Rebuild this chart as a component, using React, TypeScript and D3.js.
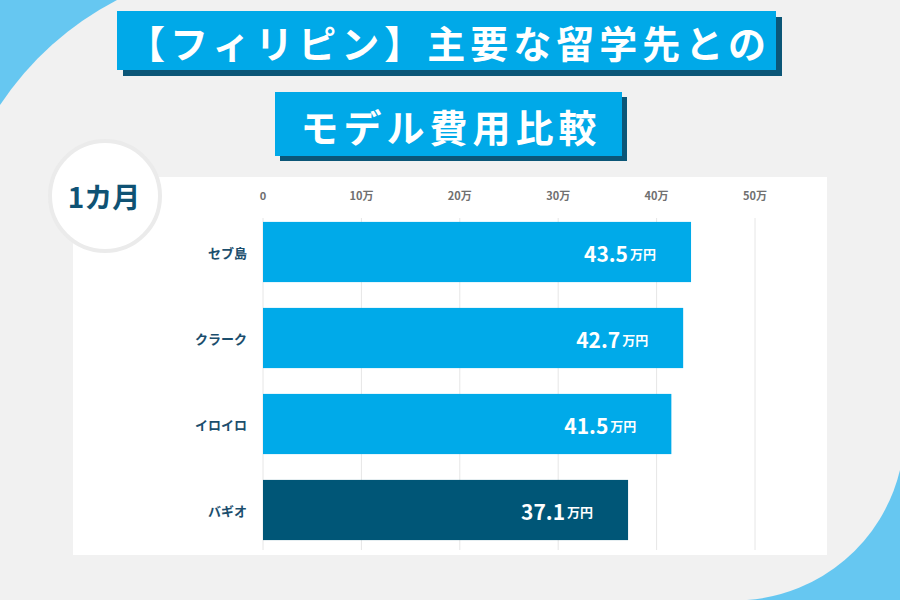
import React from "react";
import * as d3 from "d3";

const categories = ["セブ島", "クラーク", "イロイロ", "バギオ"];
const values = [43.5, 42.7, 41.5, 37.1];
const highlighted = ["バギオ"];
const tickValues = [0, 10, 20, 30, 40, 50];
const tickLabels = ["0", "10万", "20万", "30万", "40万", "50万"];
const titleLine1 = "【フィリピン】主要な留学先との";
const titleLine2 = "モデル費用比較";
const periodLabel = "1カ月";
const unitLabel = "万円";

const W = 900;
const H = 600;
const FONT = "'Noto Sans CJK JP', 'Noto Sans', sans-serif";

export default function App() {
  const x = d3.scaleLinear().domain([0, 50]).range([263, 755]);
  const y = d3
    .scaleBand<string>()
    .domain(categories)
    .range([209, 553])
    .paddingInner(0.3)
    .paddingOuter(0.15);

  const bgPath =
    "M117,0 L900,0 L900,470 A170,170 0 0 1 747,600 L0,600 L0,105 A317,317 0 0 1 117,0 Z";

  return (
    <svg width={W} height={H} style={{ display: "block", position: "absolute", left: 0, top: 0 }}>
      <rect x={0} y={0} width={W} height={H} fill="#66c7f1" />
      <path d={bgPath} fill="#f1f1f1" />

      {/* Title boxes */}
      <rect x={123} y={17} width={659} height={59} fill="#0b5677" />
      <rect x={117} y={11} width={659} height={59} fill="#00a9e8" />
      <text
        x={449}
        y={41}
        textAnchor="middle"
        dominantBaseline="central"
        fill="#fff"
        fontFamily={FONT}
        fontWeight={700}
        fontSize={38}
        letterSpacing={5}
      >
        {titleLine1}
      </text>
      <rect x={280} y={97} width={347} height={64} fill="#0b5677" />
      <rect x={275} y={92} width={347} height={64} fill="#00a9e8" />
      <text
        x={451}
        y={125}
        textAnchor="middle"
        dominantBaseline="central"
        fill="#fff"
        fontFamily={FONT}
        fontWeight={700}
        fontSize={38}
        letterSpacing={5}
      >
        {titleLine2}
      </text>

      {/* Chart panel */}
      <rect x={73} y={177} width={754} height={378} fill="#ffffff" />

      {/* Gridlines */}
      {tickValues.map((t) => (
        <line key={"g" + t} x1={x(t)} x2={x(t)} y1={218} y2={550} stroke="#e6e6e6" strokeWidth={1} />
      ))}

      {/* Tick labels */}
      {tickValues.map((t, i) => (
        <text
          key={"t" + t}
          x={x(t)}
          y={195}
          textAnchor="middle"
          dominantBaseline="central"
          fill="#707070"
          fontFamily={FONT}
          fontWeight={700}
          fontSize={11}
        >
          {tickLabels[i]}
        </text>
      ))}

      {/* Bars */}
      {categories.map((c, i) => {
        const y0 = y(c) as number;
        const bw = y.bandwidth();
        const isHi = highlighted.includes(c);
        const xEnd = x(values[i]);
        return (
          <g key={c}>
            <rect x={x(0)} y={y0} width={xEnd - x(0)} height={bw} fill={isHi ? "#005677" : "#00aae9"} />
            <text
              x={247}
              y={y0 + bw / 2}
              textAnchor="end"
              dominantBaseline="central"
              fill="#1b4e6d"
              fontFamily={FONT}
              fontWeight={700}
              fontSize={13}
            >
              {c}
            </text>
            <text
              x={xEnd - 35}
              y={y0 + bw / 2 + 1}
              textAnchor="end"
              dominantBaseline="central"
              fill="#ffffff"
              fontFamily={FONT}
              fontWeight={700}
            >
              <tspan fontSize={21}>{values[i].toFixed(1)}</tspan>
              <tspan fontSize={13} dx={2}>{unitLabel}</tspan>
            </text>
          </g>
        );
      })}

      {/* Period circle */}
      <circle cx={105} cy={196} r={55} fill="#ffffff" stroke="#ebebeb" strokeWidth={4} />
      <text
        x={104}
        y={196}
        textAnchor="middle"
        dominantBaseline="central"
        fill="#0f5274"
        fontFamily={FONT}
        fontWeight={700}
        fontSize={28}
      >
        {periodLabel}
      </text>
    </svg>
  );
}
